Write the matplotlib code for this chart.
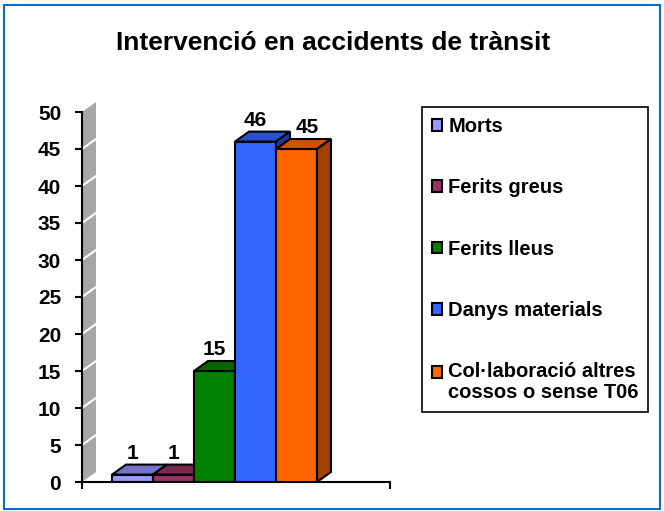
import matplotlib.pyplot as plt
from matplotlib.patches import Polygon, Patch, Rectangle

plt.rcParams['font.family'] = ['Liberation Sans', 'DejaVu Sans']
plt.rcParams['font.weight'] = 'bold'

title = "Intervenció en accidents de trànsit"
categories = ["Morts", "Ferits greus", "Ferits lleus", "Danys materials",
              "Col·laboració altres\ncossos o sense T06"]
values = [1, 1, 15, 46, 45]
yticks = [0, 5, 10, 15, 20, 25, 30, 35, 40, 45, 50]

front = ["#9999FF", "#993366", "#008000", "#3366FF", "#FF6600"]
top = ["#7373CC", "#7A2952", "#006400", "#2952CC", "#CC5200"]
side = ["#5C5CA3", "#5C1F3D", "#004D00", "#1F3D99", "#A34100"]
label_shift = [0, 0, 0, 0, 0.25]

W, H = 664, 511
fig = plt.figure(figsize=(W / 100, H / 100), dpi=100)

# outer chart border
fig.patches.append(Rectangle((4 / W, 1 - 509 / H), 656 / W, 504 / H,
                             transform=fig.transFigure, fill=False,
                             edgecolor="#0A6FC2", lw=1.5))

fig.text(333 / W, 1 - 43 / H, title, ha="center", va="center", fontsize=19)

ax = fig.add_axes([82 / W, (H - 482) / H, 308 / W, 370 / H])
ax.set_xlim(0, 308 / 41)
ax.set_ylim(0, 50)
dx = 14 / 41
dy = 10 * 50 / 370

# grey back wall
ax.add_patch(Polygon([(0, 0), (dx, dy), (dx, 50 + dy), (0, 50)], closed=True,
                     facecolor="#A6A6A6", edgecolor="none", clip_on=False, zorder=0.5))
for t in yticks[1:-1]:
    ax.plot([0, dx], [t, t + dy], color="white", lw=1.5, clip_on=False, zorder=0.6)

x0 = 30 / 41
for i, v in enumerate(values):
    left = x0 + i
    z = 2 + i
    ax.bar(left, v, width=1, align="edge", color=front[i], edgecolor="black",
           linewidth=1.5, zorder=z)
    ax.add_patch(Polygon([(left, v), (left + dx, v + dy), (left + 1 + dx, v + dy), (left + 1, v)],
                         facecolor=top[i], edgecolor="black", lw=1.5, zorder=z, clip_on=False))
    ax.add_patch(Polygon([(left + 1, 0), (left + 1 + dx, dy), (left + 1 + dx, v + dy), (left + 1, v)],
                         facecolor=side[i], edgecolor="black", lw=1.5, zorder=z, clip_on=False))
    ax.text(left + 0.5 + label_shift[i], v + dy + 0.8, str(v), ha="center", va="baseline",
            fontsize=15, zorder=20)

for s in ["top", "right"]:
    ax.spines[s].set_visible(False)
ax.spines["left"].set_linewidth(1.5)
ax.spines["bottom"].set_linewidth(1.5)
ax.spines["left"].set_zorder(1)
ax.set_yticks(yticks)
ax.tick_params(axis="y", length=5, width=1.5, pad=10, labelsize=15)
ax.set_xticks([0, 308 / 41])
ax.set_xticklabels([])
ax.tick_params(axis="x", length=5, width=1.5)

handles = [Patch(facecolor=c, edgecolor="black", lw=1.5) for c in front]
leg = fig.legend(handles, categories, loc="upper left",
                 bbox_to_anchor=(422 / W, 1 - 107 / H - 0.1, 226 / W, 0.1), mode="expand",
                 fontsize=14.5, handlelength=0.5, handleheight=0.5, handletextpad=0.3,
                 labelspacing=2.1, borderpad=0.5, borderaxespad=0, fancybox=False,
                 framealpha=1)
leg.get_frame().set_edgecolor("black")
leg.get_frame().set_linewidth(1.2)
last_text = leg.get_texts()[-1]
last_text.set_linespacing(1.1)

# put the marker of the two-line entry next to its first line
fig.canvas.draw()
last = leg.legend_handles[-1]
tb = last_text.get_window_extent()
hb = last.get_window_extent()
target = tb.y1 - tb.height / 4
last.set_y(last.get_y() + (target - (hb.y0 + hb.y1) / 2) * 72 / fig.dpi)

fig.savefig("out.png", dpi=100)
